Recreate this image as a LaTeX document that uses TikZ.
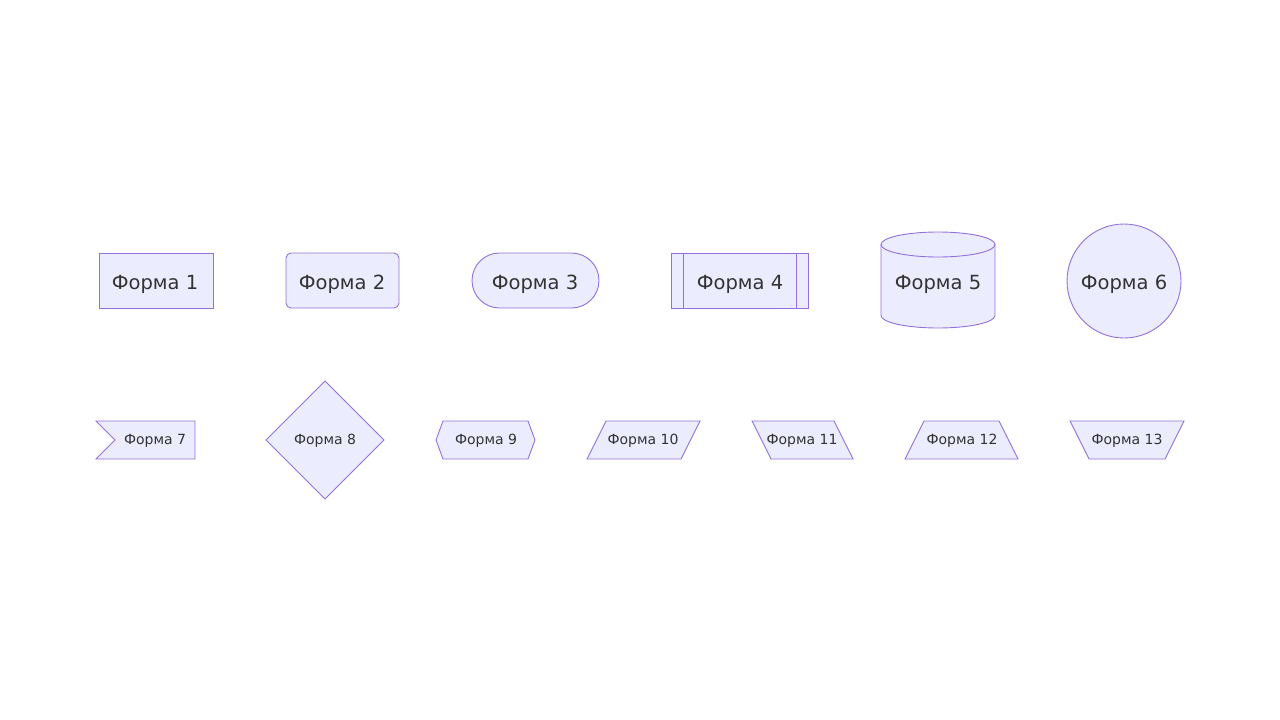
\documentclass[tikz,border=0pt]{standalone}
\usepackage{fontspec}
\setmainfont{DejaVu Sans}
\definecolor{nodefill}{HTML}{ECECFF}
\definecolor{nodeline}{HTML}{9370DB}
\definecolor{txt}{HTML}{333333}
\tikzset{
  shp/.style={fill=nodefill,draw=nodeline,line width=0.9pt,line join=miter},
  bigtxt/.style={text=txt,font=\fontsize{19.5}{22}\selectfont,inner sep=0pt,anchor=base},
  smalltxt/.style={text=txt,font=\fontsize{14}{16}\selectfont,inner sep=0pt,anchor=base}
}
\begin{document}
\begin{tikzpicture}[x=1pt,y=-1pt]
\useasboundingbox (0,0) rectangle (1280,720);
% Row 1
\draw[shp] (99,253) rectangle (213,308);
\node[bigtxt] (f1) at (155,289.5) {Форма 1};
\draw[shp,rounded corners=5pt] (286,253) rectangle (399,308);
\node[bigtxt] (f2) at (342,289.5) {Форма 2};
\draw[shp] (499.5,253) -- (571.5,253) arc[start angle=90,end angle=-90,x radius=27.5,y radius=-27.5] -- (499.5,308) arc[start angle=-90,end angle=-270,x radius=27.5,y radius=-27.5] -- cycle;
\node[bigtxt] (f3) at (535,289.5) {Форма 3};
\draw[shp] (671,253) rectangle (808,308);
\draw[nodeline,line width=0.9pt] (683,253) -- (683,308) (796,253) -- (796,308);
\node[bigtxt] (f4) at (740,289.5) {Форма 4};
% cylinder
\draw[shp] (881,244.5) -- (881,315.5) arc[start angle=180,end angle=360,x radius=57,y radius=-12.5] -- (995,244.5) arc[start angle=0,end angle=180,x radius=57,y radius=-12.5] -- cycle;
\draw[nodeline,line width=0.9pt] (881,244.5) arc[start angle=180,end angle=360,x radius=57,y radius=-12.5];
\node[bigtxt] (f5) at (938,289.5) {Форма 5};
\draw[shp] (1124,281) circle[radius=57];
\node[bigtxt] (f6) at (1124,289.5) {Форма 6};
% Row 2
\draw[shp] (96,421) -- (195,421) -- (195,459) -- (96,459) -- (115,440) -- cycle;
\node[smalltxt] (f7) at (155,444.5) {Форма 7};
\draw[shp] (325,381) -- (384,440) -- (325,499) -- (266,440) -- cycle;
\node[smalltxt] (f8) at (325,444.5) {Форма 8};
\draw[shp] (443,421) -- (528,421) -- (535,440) -- (528,459) -- (443,459) -- (436,440) -- cycle;
\node[smalltxt] (f9) at (486,444.5) {Форма 9};
\draw[shp] (606,421) -- (700,421) -- (681,459) -- (587,459) -- cycle;
\node[smalltxt] (f10) at (643,444.5) {Форма 10};
\draw[shp] (752,421) -- (834,421) -- (853,459) -- (771,459) -- cycle;
\node[smalltxt] (f11) at (802,444.5) {Форма 11};
\draw[shp] (924,421) -- (999,421) -- (1018,459) -- (905,459) -- cycle;
\node[smalltxt] (f12) at (962,444.5) {Форма 12};
\draw[shp] (1070,421) -- (1184,421) -- (1165,459) -- (1089,459) -- cycle;
\node[smalltxt] (f13) at (1127,444.5) {Форма 13};
\end{tikzpicture}
\end{document}
